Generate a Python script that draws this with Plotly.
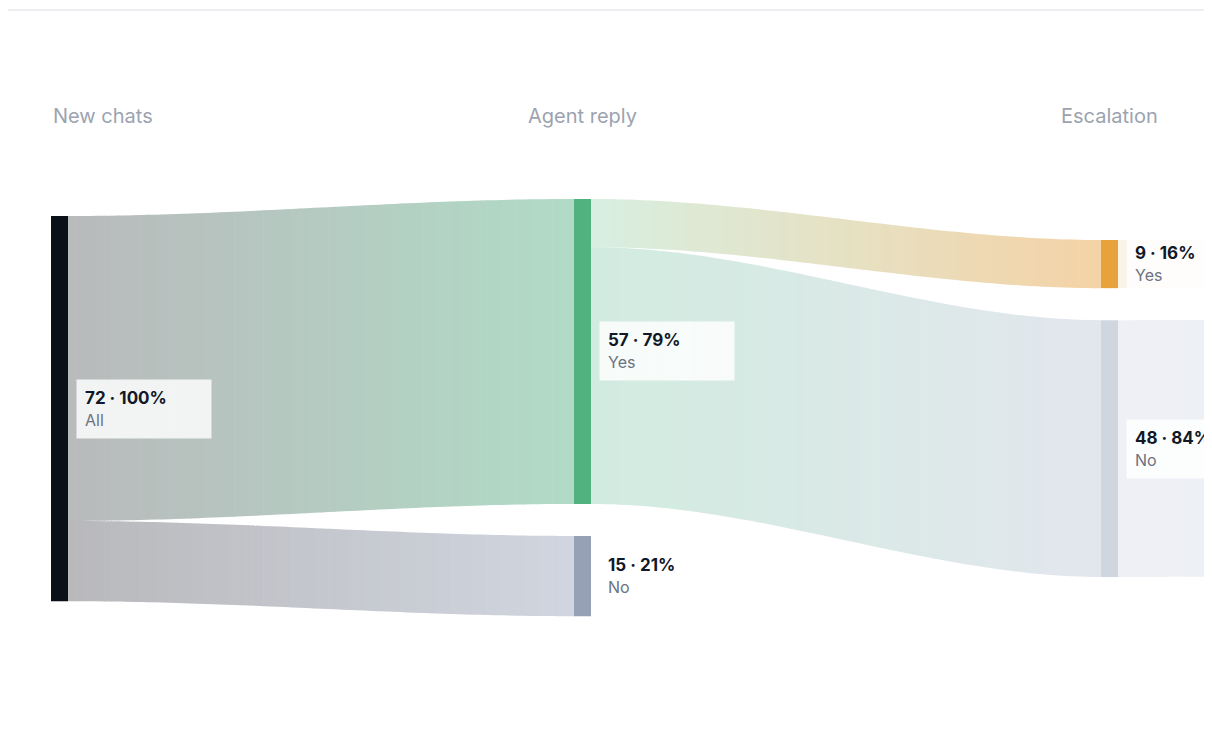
import numpy as np
import plotly.graph_objects as go

# stages and nodes
stages = ["New chats", "Agent reply", "Escalation"]
node_names = ["All", "Yes", "No", "Yes", "No"]
node_stage = [0, 1, 1, 2, 2]
node_values = [72, 57, 15, 9, 48]
node_pct = [100, 79, 21, 16, 84]
node_colors = ["#0b0f17", "#52b27f", "#97a1b5", "#e8a23b", "#d0d6e0"]

# links: source, target, value
link_src = [0, 0, 1, 1]
link_tgt = [1, 2, 3, 4]
link_val = [57, 15, 9, 48]
link_c0 = ["#b9babc", "#b9b9bc", "#d8efe1", "#d2ece0"]
link_c1 = ["#b1dcc7", "#d1d6e0", "#f5d3a6", "#e3e7ee"]

# outgoing flows past the right edge (next stage is cut off)
out_src = [3, 4]
out_val = [9, 48]
out_c0 = ["#faf3e7", "#eff1f5"]
out_c1 = ["#fbf8f2", "#e7ecf7"]

# layout constants (pixels)
W, H = 1212, 740
col_x = [43, 566, 1093, 1620]
node_w = 17
scale = 5.35
gap = 32
node_top = {0: 208, 1: 191, 2: 191 + 57 * scale + gap, 3: 232, 4: 232 + 9 * scale + gap}


def hex2rgb(h):
    return np.array([int(h[i:i + 2], 16) for i in (1, 3, 5)], dtype=float)


def band(fig, x0, x1, a0, b0, a1, b1, c0, c1, n=70):
    r0, r1 = hex2rgb(c0), hex2rgb(c1)
    xs = np.linspace(x0, x1, n + 1)
    t = (xs - x0) / (x1 - x0)
    s = 3 * t ** 2 - 2 * t ** 3
    top = a0 + (a1 - a0) * s
    bot = b0 + (b1 - b0) * s
    for i in range(n):
        c = r0 + (r1 - r0) * ((t[i] + t[i + 1]) / 2)
        col = "rgb(%d,%d,%d)" % tuple(c)
        xe = min(xs[i + 1] + 0.6, x1)
        px = [xs[i], xe, xe, xs[i], xs[i]]
        py = [top[i], top[i + 1], bot[i + 1], bot[i], top[i]]
        fig.add_trace(go.Scatter(x=px, y=py, fill="toself", fillcolor=col, mode="lines",
                                 line=dict(width=0, color=col), hoverinfo="skip", showlegend=False))


fig = go.Figure()

src_off = {i: 0.0 for i in range(len(node_values))}
tgt_off = {i: 0.0 for i in range(len(node_values))}
for s, t, v, c0, c1 in zip(link_src, link_tgt, link_val, link_c0, link_c1):
    a0 = node_top[s] + src_off[s] * scale
    a1 = node_top[t] + tgt_off[t] * scale
    src_off[s] += v
    tgt_off[t] += v
    band(fig, col_x[node_stage[s]] + node_w, col_x[node_stage[t]],
         a0, a0 + v * scale, a1, a1 + v * scale, c0, c1)

out_top = [232, 308]
for s, v, c0, c1, ot in zip(out_src, out_val, out_c0, out_c1, out_top):
    a0 = node_top[s]
    band(fig, col_x[2] + node_w, col_x[3], a0, a0 + v * scale, ot, ot + v * scale, c0, c1, n=40)

for i, v in enumerate(node_values):
    x = col_x[node_stage[i]]
    y0 = node_top[i]
    fig.add_shape(type="rect", x0=x, x1=x + node_w, y0=y0, y1=y0 + v * scale,
                  fillcolor=node_colors[i], line=dict(width=0), layer="above")
    fig.add_annotation(x=x + node_w + 8, y=y0 + v * scale / 2, xanchor="left", yanchor="middle",
                       text="<b>%d · %d%%</b><br><span style='color:#6b7280;font-size:16px'>%s</span>"
                            % (v, node_pct[i], node_names[i]),
                       showarrow=False, align="left", width=118,
                       bgcolor="rgba(255,255,255,0.82)", borderpad=8,
                       font=dict(family="Inter", size=17, color="#111827"))

for k, name in enumerate(stages):
    fig.add_annotation(x=col_x[k] if k == 0 else col_x[k] + node_w / 2, y=108,
                       xanchor="left" if k == 0 else "center", yanchor="middle",
                       text=name, showarrow=False,
                       font=dict(family="Inter", size=20, color="#9ca3af"))

fig.add_shape(type="line", x0=0, x1=W, y0=2, y1=2, line=dict(color="#eceef1", width=2))

fig.update_layout(
    width=W, height=H, margin=dict(l=0, r=0, t=0, b=0),
    paper_bgcolor="white", plot_bgcolor="white",
    xaxis=dict(range=[0, W], visible=False, fixedrange=True),
    yaxis=dict(range=[H, 0], visible=False, fixedrange=True),
)
fig.write_html("out.html")
